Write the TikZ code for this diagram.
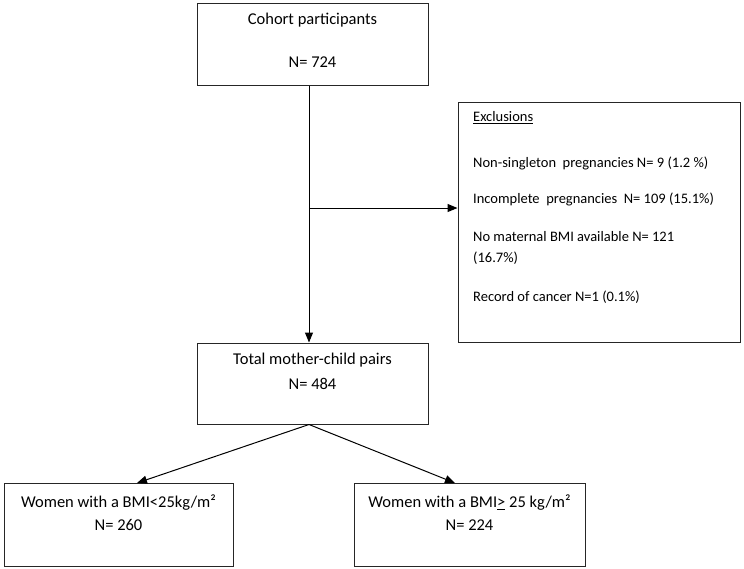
\documentclass[tikz,border=0pt]{standalone}
\usepackage{fontspec}
\setmainfont{Carlito}
\usetikzlibrary{positioning,arrows.meta}

\tikzset{
    flowbox/.style={draw=black!85, line width=1pt, rectangle, inner sep=0pt,
        minimum width=231pt, minimum height=82pt},
    boxtext/.style={font=\fontsize{16.5}{20}\selectfont, inner sep=0pt},
    excltext/.style={font=\fontsize{14.5}{21}\selectfont, inner sep=0pt, anchor=west},
}

\begin{document}
\begin{tikzpicture}[x=1pt, y=-1pt, >={Triangle[length=10pt,width=8pt]}]
    \useasboundingbox (0,0) rectangle (744,568);

    \node[flowbox] (cohort) at (312.5,44) {};
    \node[boxtext] (cohorttitle) at (312.5,20) {Cohort participants};
    \node[boxtext] (cohortn) at (312.5,62) {N= 724};

    \node[flowbox, minimum width=282pt, minimum height=240pt] (excl) at (599,222) {};
    \node[excltext] (exclhead) at (473,118) {\underline{Exclusions}};
    \node[excltext] (exclone) at (473,163) {Non-singleton\ \ pregnancies N= 9 (1.2 \%)};
    \node[excltext] (excltwo) at (473,199) {Incomplete\ \ pregnancies\ \ N= 109\ (15.1\%)};
    \node[excltext] (exclthree) at (473,237) {No maternal BMI available\ N= 121};
    \node[excltext] (exclthreeb) at (473,258) {(16.7\%)};
    \node[excltext] (exclfour) at (473,297) {Record of cancer N=1 (0.1\%)};

    \node[flowbox, minimum height=81pt] (total) at (312.5,383.5) {};
    \node[boxtext] (totaltitle) at (312.5,360) {Total mother-child pairs};
    \node[boxtext] (totaln) at (312.5,384) {N= 484};

    \node[flowbox, minimum width=229pt, minimum height=83pt] (lowbmi) at (118.5,524.5) {};
    \node[boxtext] (lowbmititle) at (118.5,503) {Women with a BMI<25kg/m²};
    \node[boxtext] (lowbmin) at (118.5,525) {N= 260};

    \node[flowbox, minimum height=83pt] (highbmi) at (469.5,524.5) {};
    \node[boxtext] (highbmititle) at (469.5,503) {Women with a BMI\underline{>} 25 kg/m²};
    \node[boxtext] (highbmin) at (469.5,525) {N= 224};

    \coordinate (split) at (309,208);
    \coordinate (fork) at (309,424);
    \coordinate (lowtip) at (137,483);
    \coordinate (hightip) at (455,483);

    \draw[line width=1pt] (cohort.south -| split) -- (split);
    \draw[->, line width=1pt] (split) -- (total.north -| split);
    \draw[->, line width=1pt] (split) -- (split -| excl.west);

    \draw[->, line width=1pt] (total.south -| fork) -- (lowtip);
    \draw[->, line width=1pt] (total.south -| fork) -- (hightip);

\end{tikzpicture}
\end{document}
